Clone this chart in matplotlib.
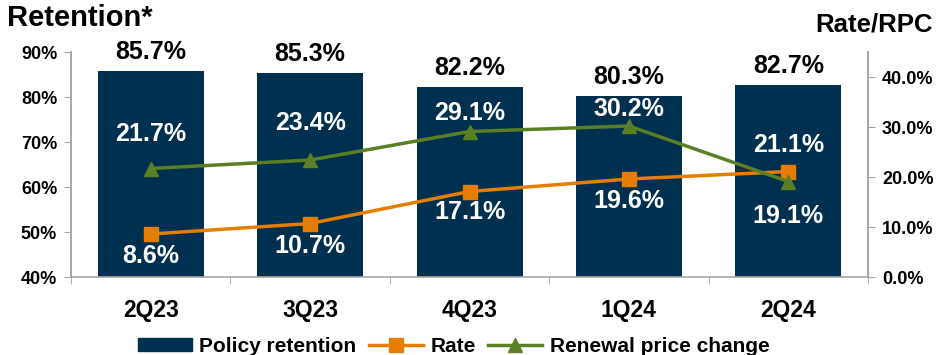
import matplotlib
matplotlib.use("Agg")
import matplotlib.pyplot as plt
import numpy as np
from matplotlib.lines import Line2D
from matplotlib.patches import Patch

categories = ["2Q23", "3Q23", "4Q23", "1Q24", "2Q24"]
retention = [85.7, 85.3, 82.2, 80.3, 82.7]
rate = [8.6, 10.7, 17.1, 19.6, 21.1]
rpc = [21.7, 23.4, 29.1, 30.2, 19.1]
left_ticks = [40, 50, 60, 70, 80, 90]
right_ticks = [0, 10, 20, 30, 40]

NAVY = "#00304F"
ORANGE = "#E57E00"
GREEN = "#5B7F24"
GREY = "#A6A6A6"

plt.rcParams["font.family"] = ["Liberation Sans", "DejaVu Sans"]
plt.rcParams["font.weight"] = "bold"

fig = plt.figure(figsize=(9.37, 3.55), dpi=100)
ax = fig.add_axes([0.0758, 0.2197, 0.9264 - 0.0758, 0.8535 - 0.2197])
ax2 = ax.twinx()

x = np.arange(len(categories))
ax.bar(x, [r - 40 for r in retention], bottom=40, width=0.665, color=NAVY, zorder=2)
ax.set_ylim(40, 90)
ax.set_xlim(-0.5, len(categories) - 0.5)
ax.set_yticks(left_ticks)
ax.set_yticklabels([f"{t}%" for t in left_ticks], fontsize=13, fontweight="bold")
ax.set_xticks(x)
ax.set_xticklabels(categories, fontsize=16.5, fontweight="bold")
ax.tick_params(axis="x", which="major", length=0, pad=16)
ax.set_xticks(np.arange(len(categories) + 1) - 0.5, minor=True)
ax.tick_params(axis="x", which="minor", length=5, color=GREY, direction="out")
ax.tick_params(axis="y", length=5, color=GREY, direction="out", pad=5)

for i, v in enumerate(retention):
    ax.annotate(f"{v}%", (x[i], v), xytext=(0, 5), textcoords="offset points",
                ha="center", va="bottom", fontsize=18, fontweight="bold", color="black")

ax2.set_ylim(0, 45)
ax2.set_yticks(right_ticks)
ax2.set_yticklabels([f"{t:.1f}%" for t in right_ticks], fontsize=13, fontweight="bold")
ax2.tick_params(axis="y", length=5, color=GREY, direction="out", pad=5)

ax2.plot(x, rate, color=ORANGE, lw=2.5, marker="s", ms=10, zorder=3)
ax2.plot(x, rpc, color=GREEN, lw=2.5, marker="^", ms=10, zorder=3)

rpc_offsets = [25, 27, 13, 12, -25]
rate_offsets = [-16, -16, -15, -16, 19]
for i in range(len(categories)):
    ax2.annotate(f"{rpc[i]}%", (x[i], rpc[i]), xytext=(0, rpc_offsets[i]), textcoords="offset points",
                 ha="center", va="center", fontsize=18, fontweight="bold", color="white")
    ax2.annotate(f"{rate[i]}%", (x[i], rate[i]), xytext=(0, rate_offsets[i]), textcoords="offset points",
                 ha="center", va="center", fontsize=18, fontweight="bold", color="white")

for a in (ax, ax2):
    a.spines["top"].set_visible(False)
    for s in ("left", "right", "bottom"):
        a.spines[s].set_color(GREY)
        a.spines[s].set_linewidth(1.2)
ax2.spines["bottom"].set_visible(False)

fig.text(0.008, 0.99, "Retention*", ha="left", va="top", fontsize=21, fontweight="bold")
fig.text(0.995, 0.965, "Rate/RPC", ha="right", va="top", fontsize=18.5, fontweight="bold")

handles = [Patch(facecolor=NAVY, edgecolor=NAVY),
           Line2D([0], [0], color=ORANGE, lw=2.5, marker="s", ms=10),
           Line2D([0], [0], color=GREEN, lw=2.5, marker="^", ms=10)]
labels = ["Policy retention", "Rate", "Renewal price change"]
fig.legend(handles, labels, loc="lower center", bbox_to_anchor=(0.484, -0.055), ncol=3,
           frameon=False, prop={"size": 15, "weight": "bold"}, handlelength=2.6,
           handleheight=0.55, handletextpad=0.35, columnspacing=0.6)

fig.savefig("out.png", dpi=100)
